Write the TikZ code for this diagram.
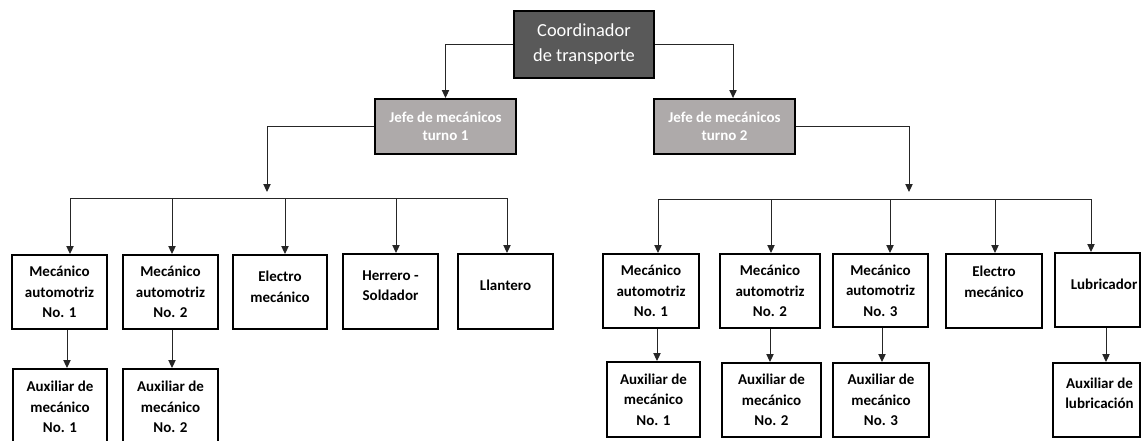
\documentclass[tikz,border=0pt]{standalone}
\usepackage{fontspec}
\setmainfont{Carlito}
\usetikzlibrary{arrows.meta}
\definecolor{coordfill}{HTML}{595959}
\definecolor{jefefill}{HTML}{AEAAAA}
\tikzset{
  conn/.style={draw=black!85, line width=0.75pt},
  arr/.style={conn, -{Triangle[width=5.5pt,length=6pt]}},
  box/.style={draw=black, line width=1.5pt, inner sep=0pt, fill=white},
  txt/.style={font=\bfseries\fontsize{11.25pt}{15.4pt}\selectfont, align=center, text=black, inner sep=0pt},
  jtxt/.style={font=\bfseries\fontsize{11.25pt}{13.9pt}\selectfont, align=center, text=white, inner sep=0pt},
  cotxt/.style={font=\fontsize{13.8pt}{18.75pt}\selectfont, align=center, text=white, inner sep=0pt}
}
\begin{document}
\begin{tikzpicture}[x=0.75pt,y=-0.75pt]
\useasboundingbox (0,0) rectangle (1141,440);
\clip (0,0) rectangle (1141,440);

% top levels
\node[box, fill=coordfill, minimum width=140*0.75pt, minimum height=67*0.75pt, label={[cotxt]center:{Coordinador\\de transporte}}] (coord) at (584,44.5) {};
\node[box, fill=jefefill, minimum width=141*0.75pt, minimum height=55*0.75pt, label={[jtxt]center:{Jefe de mecánicos\\turno 1}}] (j1) at (445.5,126.5) {};
\node[box, fill=jefefill, minimum width=141*0.75pt, minimum height=55*0.75pt, label={[jtxt]center:{Jefe de mecánicos\\turno 2}}] (j2) at (724.5,126.5) {};

% left group
\node[box, minimum width=95*0.75pt, minimum height=74*0.75pt, label={[txt]center:{Mecánico\\automotriz\\No. 1}}] (l1) at (59.5,292) {};
\node[box, minimum width=95*0.75pt, minimum height=74*0.75pt, label={[txt]center:{Mecánico\\automotriz\\No. 2}}] (l2) at (170.5,292) {};
\node[box, minimum width=94*0.75pt, minimum height=74*0.75pt, label={[txt,yshift=3.75pt]center:{Electro\\mecánico}}] (l3) at (280,292) {};
\node[box, minimum width=95*0.75pt, minimum height=75*0.75pt, label={[txt,yshift=4.5pt]center:{Herrero -\\Soldador}}] (l4) at (390.5,291.5) {};
\node[box, minimum width=95*0.75pt, minimum height=75*0.75pt, label={[txt,yshift=4.9pt]center:{Llantero}}] (l5) at (505.5,291.5) {};
\node[box, minimum width=94*0.75pt, minimum height=76*0.75pt, label={[txt]center:{Auxiliar de\\mecánico\\No. 1}}] (la1) at (60,407) {};
\node[box, minimum width=95*0.75pt, minimum height=76*0.75pt, label={[txt]center:{Auxiliar de\\mecánico\\No. 2}}] (la2) at (170.5,407) {};

% right group
\node[box, minimum width=96*0.75pt, minimum height=74*0.75pt, label={[txt]center:{Mecánico\\automotriz\\No. 1}}] (r1) at (651,291) {};
\node[box, minimum width=100*0.75pt, minimum height=74*0.75pt, label={[txt]center:{Mecánico\\automotriz\\No. 2}}] (r2) at (770,291) {};
\node[box, minimum width=95*0.75pt, minimum height=73*0.75pt, label={[txt]center:{Mecánico\\automotriz\\No. 3}}] (r3) at (880.5,290.5) {};
\node[box, minimum width=96*0.75pt, minimum height=74*0.75pt, label={[txt,yshift=6.75pt]center:{Electro\\mecánico}}] (r4) at (994,291) {};
\node[box, minimum width=85*0.75pt, minimum height=74*0.75pt, label={[txt,yshift=4.5pt,xshift=4.9pt]center:{Lubricador}}] (r5) at (1097.5,290) {};
\node[box, minimum width=93*0.75pt, minimum height=75*0.75pt, label={[txt]center:{Auxiliar de\\mecánico\\No. 1}}] (ra1) at (653.5,399.5) {};
\node[box, minimum width=99*0.75pt, minimum height=74*0.75pt, label={[txt]center:{Auxiliar de\\mecánico\\No. 2}}] (ra2) at (771.5,400) {};
\node[box, minimum width=96*0.75pt, minimum height=74*0.75pt, label={[txt]center:{Auxiliar de\\mecánico\\No. 3}}] (ra3) at (881,400) {};
\node[box, minimum width=87*0.75pt, minimum height=74*0.75pt, label={[txt,yshift=4.9pt,xshift=2.25pt]center:{Auxiliar de\\lubricación}}] (ra5) at (1096.5,400) {};

% coordinator to chiefs
\draw[arr] (coord.west) -| (j1.north);
\draw[arr] (coord.east) -| ([xshift=6.4pt]j2.north);

% chiefs to buses
\coordinate (t1) at (267,192);
\coordinate (t2) at (909,192);
\draw[arr] (j1.west) -| (t1);
\draw[arr] (j2.east) -| (t2);

% left bus
\coordinate (b1) at (70,198);
\coordinate (b2) at (172,198);
\coordinate (b3) at (285,198);
\coordinate (b4) at (396,198);
\coordinate (b5) at (507,198);
\draw[conn] (b1) -- (b5);
\draw[arr] (b1) -- (b1 |- l1.north);
\draw[arr] (b2) -- (b2 |- l2.north);
\draw[arr] (b3) -- (b3 |- l3.north);
\draw[arr] (b4) -- (b4 |- l4.north);
\draw[arr] (b5) -- (b5 |- l5.north);

% right bus
\coordinate (c1) at (658,199);
\coordinate (c2) at (771,199);
\coordinate (c3) at (890,199);
\coordinate (c4) at (995,199);
\coordinate (c5) at (1091,199);
\draw[conn] (c1) -- (c5);
\draw[arr] (c1) -- (c1 |- r1.north);
\draw[arr] (c2) -- (c2 |- r2.north);
\draw[arr] (c3) -- (c3 |- r3.north);
\draw[arr] (c4) -- (c4 |- r4.north);
\draw[arr] (c5) -- (c5 |- r5.north);

% assistants
\coordinate (k1) at (67,0);
\coordinate (k2) at (172,0);
\coordinate (k3) at (657,0);
\coordinate (k4) at (770,0);
\coordinate (k5) at (882,0);
\coordinate (k6) at (1106,0);
\draw[arr] (k1 |- l1.south) -- (k1 |- la1.north);
\draw[arr] (k2 |- l2.south) -- (k2 |- la2.north);
\draw[arr] (k3 |- r1.south) -- (k3 |- ra1.north);
\draw[arr] (k4 |- r2.south) -- (k4 |- ra2.north);
\draw[arr] (k5 |- r3.south) -- (k5 |- ra3.north);
\draw[arr] (k6 |- r5.south) -- (k6 |- ra5.north);
\end{tikzpicture}
\end{document}
